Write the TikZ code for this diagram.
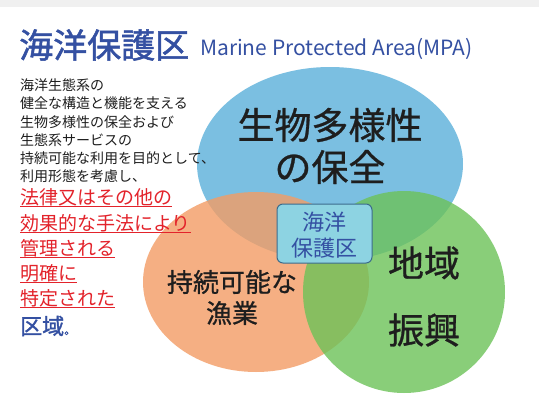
\documentclass[tikz,border=0pt]{standalone}
\usepackage{fontspec}
\setmainfont{Noto Sans CJK JP}
\newfontfamily\medfont{Noto Sans CJK JP}[FakeBold=0.8]
\newfontfamily\semifont{Noto Sans CJK JP}[FakeBold=1.5]
\definecolor{titleblue}{HTML}{3450A2}
\definecolor{redtext}{HTML}{E3232B}
\definecolor{cblue}{HTML}{5AB0DA}
\definecolor{corange}{HTML}{F39C64}
\definecolor{cgreen}{HTML}{6CC258}
\definecolor{boxfill}{HTML}{8DD3E2}
\definecolor{boxline}{HTML}{3C6C8C}
\definecolor{txt}{HTML}{1E1E1E}
\tikzset{
  circ/.style={draw=none, fill opacity=0.8},
  bodytxt/.style={anchor=west, inner sep=0pt, text=txt, font=\fontsize{14}{14}\selectfont},
  redtxt/.style={anchor=west, inner sep=0pt, text=redtext, font=\fontsize{19}{19}\selectfont},
  uline/.style={draw=redtext, line width=1.1pt},
  bigtxt/.style={text=txt, inner sep=0pt},
}
\begin{document}
\begin{tikzpicture}[x=1pt,y=-1pt]
\useasboundingbox (0,0) rectangle (539,410);
\fill[white] (0,0) rectangle (539,410);
\fill[black!6] (0,0) rectangle (539,7);
% circles
\fill[cblue, circ] (330,164) ellipse [x radius=133, y radius=97];
\fill[corange, circ] (256,282) ellipse [x radius=113, y radius=90];
\fill[cgreen, circ] (404,292) ellipse [x radius=101, y radius=101];
% title
\node[anchor=west, inner sep=0pt, text=titleblue, font=\fontsize{34}{34}\semifont] (title) at (19,45) {海洋保護区};
\node[anchor=west, inner sep=0pt, text=titleblue, font=\fontsize{21}{21}\selectfont] (subtitle) at (200,49) {Marine Protected Area(MPA)};
% left text
\node[bodytxt] (l1) at (20,85) {海洋生態系の};
\node[bodytxt] (l2) at (20,103) {健全な構造と機能を支える};
\node[bodytxt] (l3) at (20,122) {生物多様性の保全および};
\node[bodytxt] (l4) at (20,140) {生態系サービスの};
\node[bodytxt] (l5) at (20,158) {持続可能な利用を目的として、};
\node[bodytxt] (l6) at (20,176) {利用形態を考慮し、};
\node[redtxt] (r1) at (20,197) {法律又はその他の};
\node[redtxt] (r2) at (20,223) {効果的な手法により};
\node[redtxt] (r3) at (20,248) {管理される};
\node[redtxt] (r4) at (20,273) {明確に};
\node[redtxt] (r5) at (20,298) {特定された};
\foreach \n in {r1,r2,r3,r4,r5}{
  \draw[uline] ([yshift=-0.8pt]\n.south west) -- ([yshift=-0.8pt]\n.south east);
}
\node[anchor=west, inner sep=0pt, text=titleblue, font=\fontsize{22}{22}\semifont] (r6) at (20,326) {区域\fontsize{12}{12}\selectfont 。};
% circle labels
\node[bigtxt, font=\fontsize{37}{37}\medfont] (bio1) at (330,125) {生物多様性};
\node[bigtxt, font=\fontsize{37}{37}\medfont] (bio2) at (330,167) {の保全};
\node[bigtxt, font=\fontsize{26}{26}\medfont] (fish1) at (232,282) {持続可能な};
\node[bigtxt, font=\fontsize{26}{26}\medfont] (fish2) at (232,313) {漁業};
\node[bigtxt, font=\fontsize{36}{36}\medfont] (reg1) at (424,263) {地域};
\node[bigtxt, font=\fontsize{36}{36}\medfont] (reg2) at (424,330) {振興};
% center box
\draw[fill=boxfill, draw=boxline, line width=1pt, rounded corners=6pt] (277,204) rectangle (372,263);
\node[inner sep=0pt, text=titleblue, font=\fontsize{22}{22}\selectfont] (mpa1) at (324.5,222) {海洋};
\node[inner sep=0pt, text=titleblue, font=\fontsize{22}{22}\selectfont] (mpa2) at (324.5,248) {保護区};
\end{tikzpicture}
\end{document}
